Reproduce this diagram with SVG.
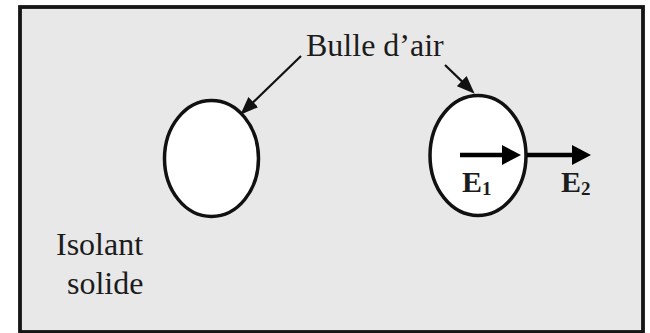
<svg xmlns="http://www.w3.org/2000/svg" width="650" height="333" viewBox="0 0 650 333">
  <style>
    .label { font-family: "Liberation Serif", "Times New Roman", serif; fill: #1c1c1c; }
    .bubble { fill: #ffffff; stroke: #111111; stroke-width: 3.5; }
    .leader { stroke: #111111; stroke-width: 2.2; fill: none; }
    .field { stroke: #000000; stroke-width: 4.5; fill: none; }
  </style>
  <defs>
    <marker id="headThin" markerUnits="userSpaceOnUse" markerWidth="18" markerHeight="14" refX="9" refY="7" orient="auto">
      <path d="M0,0 L18,7 L0,14 z" fill="#111111"/>
    </marker>
    <marker id="headBold" markerUnits="userSpaceOnUse" markerWidth="19" markerHeight="20" refX="9" refY="10" orient="auto">
      <path d="M0,0 L19,10 L0,20 z" fill="#000000"/>
    </marker>
  </defs>

  <!-- solid insulator block -->
  <g id="insulator">
    <rect x="20" y="7" width="623" height="325" fill="#e8e8e8" stroke="#151515" stroke-width="3.8"/>
    <text class="label" x="56" y="255" font-size="32">Isolant</text>
    <text class="label" x="67" y="294" font-size="32">solide</text>
  </g>

  <!-- air bubbles -->
  <g id="bubble-left">
    <ellipse class="bubble" cx="211.5" cy="158.5" rx="47" ry="58"/>
  </g>
  <g id="bubble-right">
    <ellipse class="bubble" cx="478" cy="155.5" rx="48" ry="60"/>
  </g>

  <g id="bubble-label">
    <text class="label" x="306" y="56" font-size="32">Bulle d’air</text>
  </g>

  <!-- field labels -->
  <g id="field-E1">
    <text class="label" x="462" y="192" font-size="30" font-weight="bold">E<tspan font-size="19" dy="3">1</tspan></text>
  </g>
  <g id="field-E2">
    <text class="label" x="561" y="192" font-size="30" font-weight="bold">E<tspan font-size="19" dy="3">2</tspan></text>
  </g>

  <!-- connectors -->
  <g id="connectors">
    <line class="leader" x1="301" y1="56" x2="246.8" y2="108.4" marker-end="url(#headThin)"/>
    <line class="leader" x1="445" y1="65" x2="468.2" y2="87.4" marker-end="url(#headThin)"/>
    <line class="field" x1="460" y1="155" x2="511" y2="155" marker-end="url(#headBold)"/>
    <line class="field" x1="527" y1="155" x2="581" y2="155" marker-end="url(#headBold)"/>
  </g>
</svg>
